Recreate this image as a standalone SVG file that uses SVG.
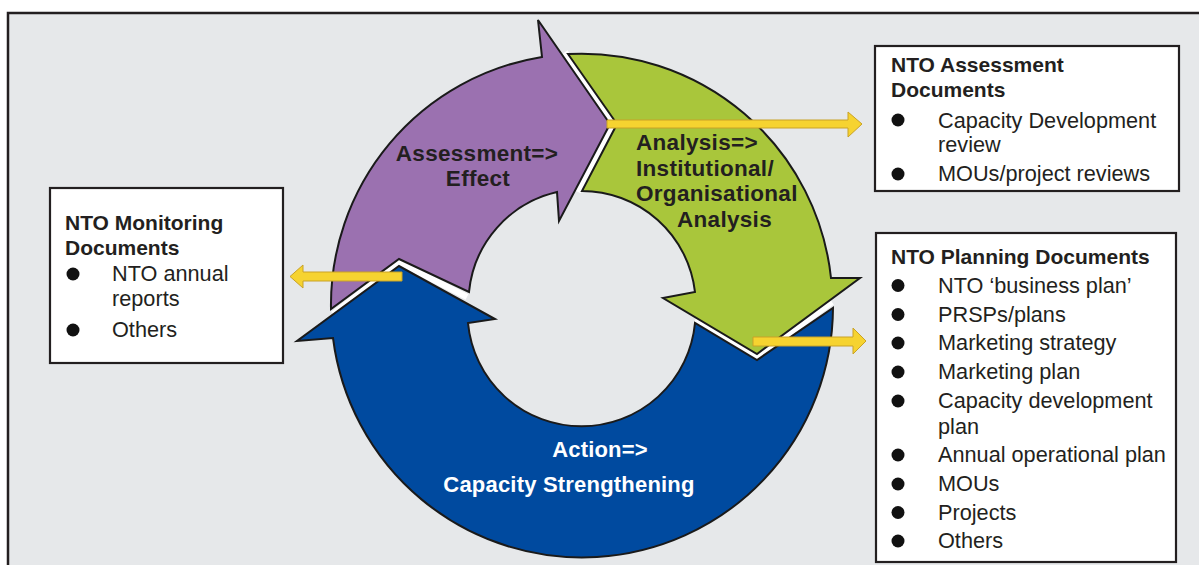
<svg xmlns="http://www.w3.org/2000/svg" width="1199" height="565" viewBox="0 0 1199 565">
<style>
.seg{stroke:#1a1a1a;stroke-width:2;stroke-linejoin:miter}
.gap{fill:none;stroke:#ffffff;stroke-width:6;stroke-linejoin:miter}
.box{fill:#ffffff;stroke:#231f20;stroke-width:2.2}
.ttl{font-family:"Liberation Sans",Arial,sans-serif;font-weight:bold;font-size:21px;fill:#231f20}
.itm{font-family:"Liberation Sans",Arial,sans-serif;font-size:21.7px;fill:#231f20}
.cyc{font-family:"Liberation Sans",Arial,sans-serif;font-weight:bold;font-size:22.5px;letter-spacing:0.3px;fill:#231f20}
.cycw{font-family:"Liberation Sans",Arial,sans-serif;font-weight:bold;font-size:22px;letter-spacing:0.2px;fill:#ffffff}
.yarr{fill:#f6d330;stroke:#c9a227;stroke-width:1}
.dot{fill:#111111}
</style>
<rect x="0" y="0" width="1199" height="565" fill="#ffffff"/>
<rect x="8" y="13" width="1200" height="565" fill="#e6e8ea" stroke="#231f20" stroke-width="2.5"/>

<g id="cycle-gaps">
<polyline class="gap" points="333,314 399,262 467,297"/>
<polyline class="gap" points="565,52 613,124 578,192"/>
<polyline class="gap" points="695,320 757,357 832,302"/>
</g>

<g id="node-assessment">
<path class="seg" fill="#9b71b0" d="M331,309 A251,251 0 0 1 542,57 L538,20 L610,124 L559,221 L557,192 A114,114 0 0 0 469,292 L399,259 Z"/>
<text class="cyc" x="477" y="161" text-anchor="middle">Assessment=&gt;</text>
<text class="cyc" x="478" y="186" text-anchor="middle">Effect</text>
</g>

<g id="node-analysis">
<path class="seg" fill="#a9c63b" d="M568,54 A251,251 0 0 1 831,278 L860,278 L757,354 L663,298 L695,292 A114,114 0 0 0 582,191 L617,124 Z"/>
<text class="cyc" x="636" y="150">Analysis=&gt;</text>
<text class="cyc" x="636" y="176">Institutional/</text>
<text class="cyc" x="636" y="201">Organisational</text>
<text class="cyc" x="677" y="227">Analysis</text>
</g>

<g id="node-action">
<path class="seg" fill="#004a9f" d="M833,308 A251,251 0 0 1 333,338 L297,341 L399,266 L495,319 L468,323 A114,114 0 0 0 695,323 L757,360 Z"/>
<text class="cycw" x="600" y="457" text-anchor="middle">Action=&gt;</text>
<text class="cycw" x="569" y="492" text-anchor="middle">Capacity Strengthening</text>
</g>

<g id="connectors">
<polygon class="yarr" points="607,120 848,120 848,112 862,124 848,137 848,128 607,128"/>
<polygon class="yarr" points="753,337 853,337 853,328 866,341 853,354 853,346 753,346"/>
<polygon class="yarr" points="402,272 303,272 303,265 290,276.5 303,288 303,281 402,281"/>
</g>

<g id="node-monitoring-docs">
<rect class="box" x="50" y="188" width="233" height="175"/>
<text class="ttl" x="65" y="230">NTO Monitoring</text>
<text class="ttl" x="65" y="255">Documents</text>
<circle class="dot" cx="73" cy="274" r="6.5"/>
<text class="itm" x="112" y="281">NTO annual</text>
<text class="itm" x="112" y="306">reports</text>
<circle class="dot" cx="73" cy="330" r="6.5"/>
<text class="itm" x="112" y="337">Others</text>
</g>

<g id="node-assessment-docs">
<rect class="box" x="875" y="46" width="304" height="145"/>
<text class="ttl" x="891" y="72">NTO Assessment</text>
<text class="ttl" x="891" y="97">Documents</text>
<circle class="dot" cx="898" cy="120" r="6.5"/>
<text class="itm" x="938" y="128">Capacity Development</text>
<text class="itm" x="938" y="152">review</text>
<circle class="dot" cx="898" cy="174" r="6.5"/>
<text class="itm" x="938" y="181">MOUs/project reviews</text>
</g>

<g id="node-planning-docs">
<rect class="box" x="876" y="233" width="300" height="329"/>
<text class="ttl" x="891" y="264">NTO Planning Documents</text>
<circle class="dot" cx="898" cy="285.5" r="6.5"/>
<text class="itm" x="938" y="293">NTO ‘business plan’</text>
<circle class="dot" cx="898" cy="314.5" r="6.5"/>
<text class="itm" x="938" y="322">PRSPs/plans</text>
<circle class="dot" cx="898" cy="343" r="6.5"/>
<text class="itm" x="938" y="350">Marketing strategy</text>
<circle class="dot" cx="898" cy="372" r="6.5"/>
<text class="itm" x="938" y="379">Marketing plan</text>
<circle class="dot" cx="898" cy="401" r="6.5"/>
<text class="itm" x="938" y="408">Capacity development</text>
<text class="itm" x="938" y="434">plan</text>
<circle class="dot" cx="898" cy="455" r="6.5"/>
<text class="itm" x="938" y="462">Annual operational plan</text>
<circle class="dot" cx="898" cy="484" r="6.5"/>
<text class="itm" x="938" y="491">MOUs</text>
<circle class="dot" cx="898" cy="512.5" r="6.5"/>
<text class="itm" x="938" y="520">Projects</text>
<circle class="dot" cx="898" cy="541" r="6.5"/>
<text class="itm" x="938" y="548">Others</text>
</g>
</svg>
